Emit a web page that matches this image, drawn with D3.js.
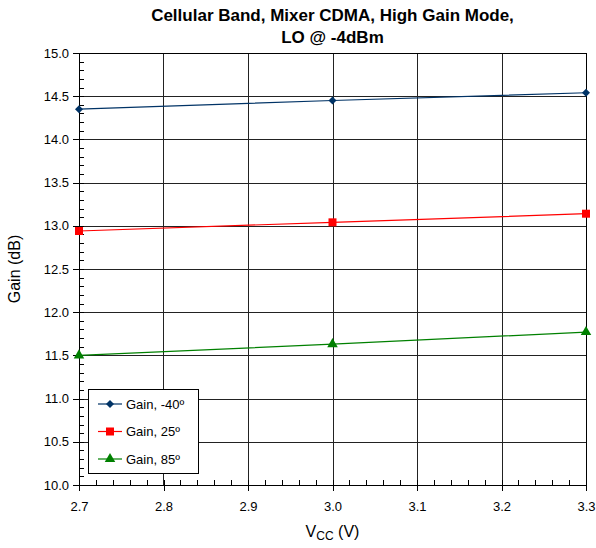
<!DOCTYPE html>
<meta charset="utf-8">
<style>
body { margin: 0; background: #fff; }
text { font-family: "Liberation Sans", Arial, sans-serif; fill: #000; }
.grid line { stroke: #222; stroke-width: 1px; shape-rendering: crispEdges; }
.axis path, .axis line { stroke: #000; shape-rendering: crispEdges; }
.axis text { font-size: 13px; }
</style>
<body>
<svg width="596" height="548"></svg>
<script src="https://d3js.org/d3.v7.min.js"></script>
<script>
var vcc = [2.7, 3.0, 3.3];
var gainM40 = [14.35, 14.45, 14.54];
var gain25 = [12.94, 13.04, 13.14];
var gain85 = [11.50, 11.63, 11.77];
var xTicks = [2.7, 2.8, 2.9, 3.0, 3.1, 3.2, 3.3];
var yTicks = [10.0, 10.5, 11.0, 11.5, 12.0, 12.5, 13.0, 13.5, 14.0, 14.5, 15.0];

var series = [
  {name: "Gain, -40\u00ba", values: gainM40, color: "#003366", symbol: d3.symbolSquare, size: 32, rot: 45},
  {name: "Gain, 25\u00ba", values: gain25, color: "#ff0000", symbol: d3.symbolSquare, size: 64, rot: 0},
  {name: "Gain, 85\u00ba", values: gain85, color: "#008000", symbol: d3.symbolTriangle, size: 48, rot: 0}
];

var svg = d3.select("svg"),
    margin = {top: 53, right: 10, bottom: 63, left: 79},
    width = +svg.attr("width") - margin.left - margin.right,
    height = +svg.attr("height") - margin.top - margin.bottom;

var x = d3.scaleLinear().domain([2.7, 3.3]).range([0, width]);
var y = d3.scaleLinear().domain([10, 15]).range([height, 0]);

var g = svg.append("g")
    .attr("transform", "translate(" + margin.left + "," + margin.top + ")");

// grid
var grid = g.append("g").attr("class", "grid");
grid.selectAll(".gx").data(xTicks).enter().append("line")
    .attr("x1", d => Math.round(x(d)) + 0.5).attr("x2", d => Math.round(x(d)) + 0.5)
    .attr("y1", 0).attr("y2", height);
grid.selectAll(".gy").data(yTicks).enter().append("line")
    .attr("x1", 0).attr("x2", width)
    .attr("y1", d => Math.round(y(d)) + 0.5).attr("y2", d => Math.round(y(d)) + 0.5);

// minor ticks (inside)
var xMinor = d3.range(2.7, 3.3001, 0.02);
var yMinor = d3.range(10, 15.001, 0.1);
g.append("g").attr("class", "axis")
  .call(d3.axisBottom(x).tickValues(xMinor).tickSize(-5).tickFormat(""))
  .attr("transform", "translate(0," + height + ")")
  .select(".domain").remove();
g.append("g").attr("class", "axis")
  .call(d3.axisLeft(y).tickValues(yMinor).tickSize(-5).tickFormat(""))
  .select(".domain").remove();

// major axes
g.append("g")
    .attr("class", "axis")
    .attr("transform", "translate(0," + height + ")")
    .call(d3.axisBottom(x).tickValues(xTicks).tickSize(6).tickPadding(11).tickSizeOuter(0).tickFormat(d3.format(".1f")));

g.append("g")
    .attr("class", "axis")
    .call(d3.axisLeft(y).tickValues(yTicks).tickSize(6).tickPadding(4).tickSizeOuter(0).tickFormat(d3.format(".1f")));

// border
g.append("rect").attr("width", width).attr("height", height)
    .attr("fill", "none").attr("stroke", "#000").attr("shape-rendering", "crispEdges");

// series
var line = d3.line().x((d, i) => x(vcc[i])).y(d => y(d));
series.forEach(function(s) {
  g.append("path").datum(s.values)
      .attr("fill", "none").attr("stroke", s.color).attr("stroke-width", 1.2)
      .attr("d", line);
  g.selectAll(null).data(s.values).enter().append("path")
      .attr("d", d3.symbol().type(s.symbol).size(s.size))
      .attr("transform", (d, i) => "translate(" + x(vcc[i]) + "," + y(d) + ") rotate(" + s.rot + ")")
      .attr("fill", s.color);
});

// legend
var lg = g.append("g").attr("transform", "translate(9,336)");
lg.append("rect").attr("width", 110).attr("height", 84)
    .attr("fill", "#fff").attr("stroke", "#000").attr("shape-rendering", "crispEdges");
series.forEach(function(s, i) {
  var ly = 15 + i * 27.5;
  lg.append("line").attr("x1", 10).attr("x2", 34).attr("y1", ly).attr("y2", ly)
      .attr("stroke", s.color).attr("stroke-width", 1.2);
  lg.append("path").attr("d", d3.symbol().type(s.symbol).size(s.size))
      .attr("transform", "translate(22," + ly + ") rotate(" + s.rot + ")").attr("fill", s.color);
  lg.append("text").attr("x", 38).attr("y", ly).attr("dy", "0.35em")
      .style("font-size", "13px").text(s.name);
});

// titles
var title = svg.append("text").attr("text-anchor", "middle")
    .attr("x", margin.left + width / 2).style("font-size", "17px").style("font-weight", "bold");
title.append("tspan").attr("x", margin.left + width / 2).attr("y", 21).text("Cellular Band, Mixer CDMA, High Gain Mode,");
title.append("tspan").attr("x", margin.left + width / 2).attr("y", 43).text("LO @ -4dBm");

svg.append("text")
    .attr("transform", "translate(20," + (margin.top + height / 2) + ") rotate(-90)")
    .attr("text-anchor", "middle").style("font-size", "16px").text("Gain (dB)");

var xl = svg.append("text").attr("text-anchor", "middle")
    .attr("x", margin.left + width / 2).attr("y", 537).style("font-size", "16px");
xl.append("tspan").text("V");
xl.append("tspan").attr("dy", 3).style("font-size", "12px").text("CC");
xl.append("tspan").attr("dy", -3).text(" (V)");
</script>
</body>
